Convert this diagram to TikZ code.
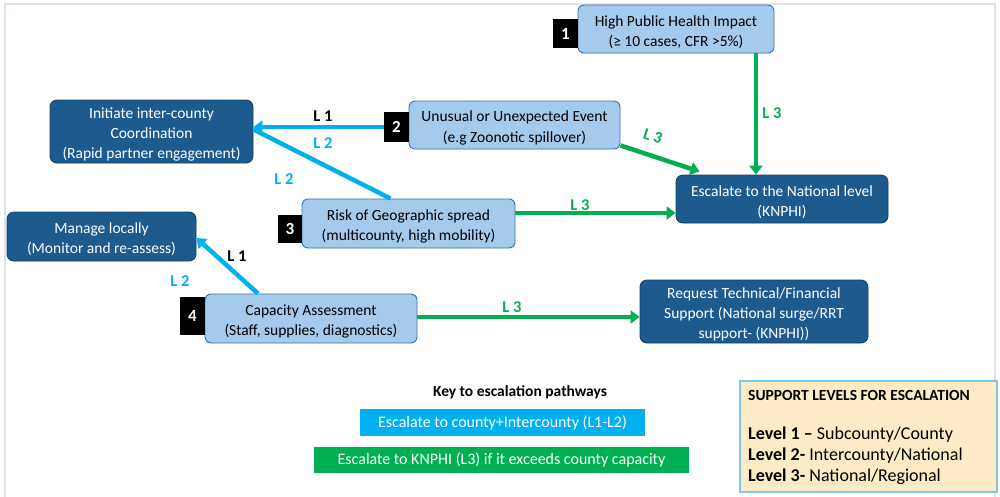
\documentclass[tikz,border=0pt]{standalone}
\usepackage{fontspec}
\setmainfont{Carlito}
\usetikzlibrary{arrows.meta,calc}
\definecolor{lightbox}{HTML}{A4CBEC}
\definecolor{lightedge}{HTML}{41719C}
\definecolor{darkbox}{HTML}{1D5B8E}
\definecolor{darkedge}{HTML}{173F63}
\definecolor{cyanl}{HTML}{00B0F0}
\definecolor{greenl}{HTML}{00B050}
\definecolor{framec}{HTML}{DCE4F0}
\definecolor{supfill}{HTML}{FDEBC6}
\definecolor{supedge}{HTML}{7CC7EA}
\tikzset{
  lbox/.style={draw=lightedge, line width=0.9pt, fill=lightbox, rounded corners=6pt, inner sep=0pt},
  lboxtext/.style={align=center, font=\fontsize{15.5}{20.5}\selectfont, inner sep=0pt},
  dbox/.style={draw=darkedge, line width=0.9pt, fill=darkbox, rounded corners=7pt, inner sep=0pt},
  dboxtext/.style={align=center, text=white, font=\fontsize{15.5}{20}\selectfont, inner sep=0pt},
  numbox/.style={fill=black, text=white, font=\bfseries\fontsize{17}{17}\selectfont, inner sep=0pt},
  carr/.style={draw=cyanl, line width=4.5pt, -{Triangle[length=9pt,width=13pt]}},
  cline/.style={draw=cyanl, line width=4.5pt},
  garr/.style={draw=greenl, line width=4.5pt, -{Triangle[length=9pt,width=13pt]}},
  lblk/.style={font=\bfseries\fontsize{16.5}{16.5}\selectfont, text=black},
  lcyan/.style={font=\bfseries\fontsize{16.5}{16.5}\selectfont, text=cyanl},
  lgreen/.style={font=\bfseries\fontsize{16.5}{16.5}\selectfont, text=greenl},
}
% #1 style, #2 name, #3 position, #4 width, #5 height, #6 text
\newcommand{\mkbox}[6]{%
  \node[#1, minimum width=#4, minimum height=#5] (#2) at #3 {};
  \node[#1text] (#2t) at ([yshift=-3pt]#2.center) {#6};
}
\begin{document}
\begin{tikzpicture}[x=1pt,y=-1pt]
\useasboundingbox (0,0) rectangle (1000,496);
\fill[white] (0,0) rectangle (1000,496);
\draw[framec, line width=2pt] (5,510) -- (5,4) -- (995,4) -- (995,510);

% nodes
\mkbox{lbox}{b1}{(676,29)}{196pt}{48pt}{High Public Health Impact\\(≥ 10 cases, CFR >5\%)}
\node[numbox, minimum width=25pt, minimum height=29pt] (n1) at (565.5,33.5) {1};
\mkbox{lbox}{b2}{(514.5,125)}{211pt}{48pt}{Unusual or Unexpected Event\\(e.g Zoonotic spillover)}
\node[numbox, minimum width=25pt, minimum height=30pt] (n2) at (396.5,127) {2};
\mkbox{dbox}{init}{(151.5,131.5)}{203pt}{63pt}{Initiate inter-county\\Coordination\\(Rapid partner engagement)}
\mkbox{lbox}{b3}{(408.5,223.5)}{213pt}{49pt}{Risk of Geographic spread\\(multicounty, high mobility)}
\node[numbox, minimum width=24pt, minimum height=28pt] (n3) at (290,229) {3};
\mkbox{dbox}{esc}{(782,199)}{212pt}{48pt}{Escalate to the National level\\(KNPHI)}
\mkbox{dbox}{man}{(101.5,236.5)}{189pt}{49pt}{Manage locally\\(Monitor and re-assess)}
\mkbox{lbox}{b4}{(311,318.5)}{212pt}{49pt}{Capacity Assessment\\(Staff, supplies, diagnostics)}
\node[numbox, minimum width=25pt, minimum height=38pt] (n4) at (192.5,316) {4};
\mkbox{dbox}{req}{(754,311.5)}{228pt}{63pt}{Request Technical/Financial\\Support (National surge/RRT\\support- (KNPHI))}

% cyan connectors
\draw[cline] ([xshift=-18pt]b3.north) -- ([yshift=2pt]init.east);
\draw[carr] (n2.west) -- (init.east |- n2.west);
\draw[carr] ([xshift=-53pt]b4.north) -- ([yshift=-1.5pt]man.east);

% green connectors
\coordinate (g1s) at ($(b1.south)+(80,0)$);
\draw[garr] (g1s) -- (g1s |- esc.north);
\draw[garr] ([yshift=4pt]b2.south east) -- ($(esc.north west)+(24,-3)$);
\coordinate (g3s) at ([yshift=10.5pt]b3.east);
\draw[garr] (g3s) -- (esc.west |- g3s);
\coordinate (g4s) at ([yshift=1.5pt]b4.east);
\draw[garr] (g4s) -- (req.west |- g4s);

% labels
\node[lblk] (l1a) at (323,116) {L 1};
\node[lcyan] (l2a) at (323,143) {L 2};
\node[lcyan] (l2b) at (284,179) {L 2};
\node[lblk] (l1b) at (237,256) {L 1};
\node[lcyan] (l2c) at (180,281) {L 2};
\node[lgreen] (l3a) at (772,113) {L 3};
\node[lgreen, rotate=-18] (l3b) at (653,136) {L 3};
\node[lgreen] (l3c) at (580,205) {L 3};
\node[lgreen] (l3d) at (512,307) {L 3};

% key
\node[font=\bfseries\fontsize{15.5}{15.5}\selectfont] (keyt) at (520,392) {Key to escalation pathways};
\node[fill=cyanl, text=white, minimum width=285pt, minimum height=27pt, font=\fontsize{16}{16}\selectfont, inner sep=0pt] (k1) at (502.5,422.5) {Escalate to county+Intercounty (L1-L2)};
\node[fill=greenl, text=white, minimum width=375pt, minimum height=26pt, font=\fontsize{16}{16}\selectfont, inner sep=0pt] (k2) at (501.5,460) {Escalate to KNPHI (L3) if it exceeds county capacity};

% support levels
\node[draw=supedge, line width=1.2pt, fill=supfill, minimum width=257pt, minimum height=111pt, inner sep=0pt] (sup) at (868.5,436.5) {};
\node[anchor=west, font=\bfseries\fontsize{15.5}{15.5}\selectfont, inner sep=0pt] (supt) at (748,395) {SUPPORT LEVELS FOR ESCALATION};
\node[anchor=west, font=\fontsize{18}{18}\selectfont, inner sep=0pt] (s1) at (748,435) {\textbf{Level 1 –} Subcounty/County};
\node[anchor=west, font=\fontsize{18}{18}\selectfont, inner sep=0pt] (s2) at (748,456) {\textbf{Level 2-} Intercounty/National};
\node[anchor=west, font=\fontsize{18}{18}\selectfont, inner sep=0pt] (s3) at (748,477) {\textbf{Level 3-} National/Regional};
\end{tikzpicture}
\end{document}
